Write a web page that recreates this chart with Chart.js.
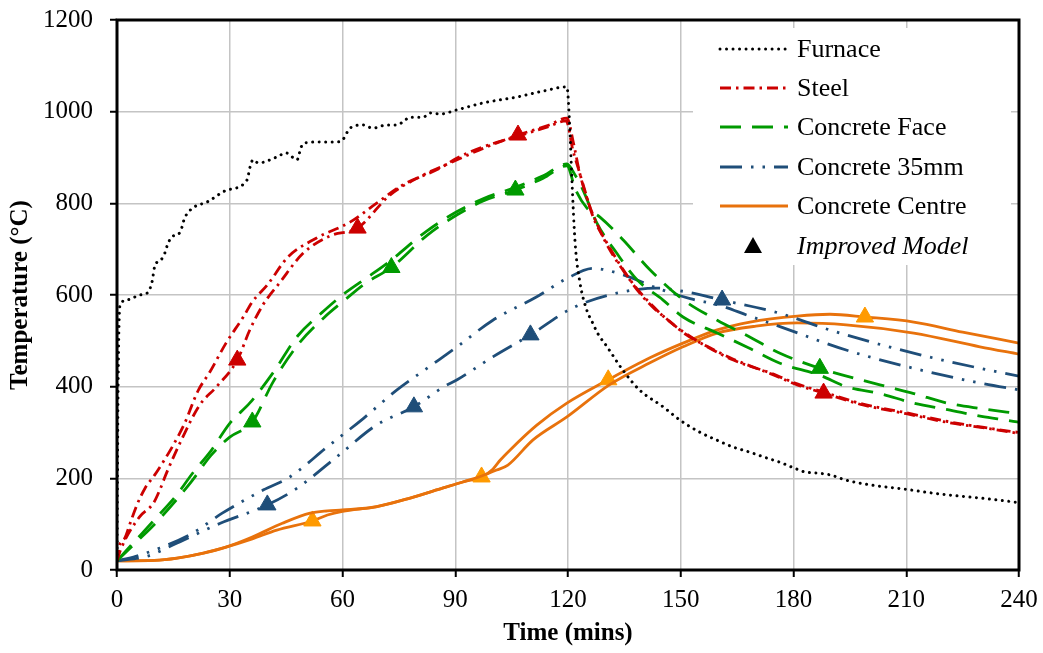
<!DOCTYPE html>
<html>
<head>
<meta charset="utf-8">
<title>Temperature vs time</title>
<script src="https://cdn.jsdelivr.net/npm/chart.js@4.4.0/dist/chart.umd.min.js"></script>
<style>
  html, body { margin: 0; padding: 0; background: #fff; }
  #wrap { width: 1043px; height: 653px; }
</style>
</head>
<body>
<div id="wrap"><canvas id="tempChart" width="1043" height="653"></canvas></div>
<script>
// [time (mins), temperature (°C)]
const furnace = [[0,20],[0.3,400],[0.8,578],[3,590],[6,600],[8,604],[9.3,628],[10,661],[12.3,683],[13.6,713],[14.6,727],[16.8,737],[18,768],[20.2,790],[24,803],[29.3,829],[34.6,851],[35.4,879],[36.2,895],[37.6,888],[42.5,901],[45,910],[47.9,895],[49,923],[50,932],[55,934],[58.5,934],[60,938],[62,964],[65.5,971],[68,964],[71.8,971],[74.5,971],[76,977],[78,988],[81.5,988],[83.3,997],[86,995],[90.5,1004],[97.4,1019],[106.4,1032],[113.4,1045],[119.7,1054],[120.5,960],[121,858],[121.9,713],[123.2,626],[125,567],[126.5,540],[128,515],[130.4,487],[134.6,436],[139,393],[145.3,356],[149.8,327],[155,301],[160,282],[164,268],[168,258],[173,244],[176.4,235],[180,223],[183,214],[187,211],[190,207],[194,196],[201,185],[210,176],[215,170],[221,164],[229.6,157],[234,153],[240,147]];

const steelA = [[0,20],[0.5,50],[2.1,70],[3.5,102],[5.3,142],[7.5,179],[10,207],[12.3,236],[15,273],[18,320],[21.5,390],[24.7,432],[29,495],[33.6,552],[36,585],[40,622],[45.5,683],[53,724],[62,759],[69,800],[76,840],[86,877],[90.5,899],[97,922],[106,945],[115,968],[119.5,980],[121.3,916],[122.6,880],[125,814],[126.7,770],[130.4,713],[134.7,655],[138,617],[142.7,575],[146,549],[150.6,520],[156,492],[164,458],[173.8,430],[181,406],[188,388],[198.5,362],[210,343],[221,324],[231.5,310],[240,300]];
const steelB = [[0,20],[1,45],[6,116],[9.7,146],[11.4,175],[13.3,214],[17.5,290],[22,360],[26.5,400],[32,458],[35.4,525],[38.8,578],[43.4,628],[49.5,691],[57,730],[64,746],[72.6,818],[80.6,858],[90.5,895],[97.4,920],[106.7,949],[115,971],[119.7,986],[121.5,930],[123,870],[125.5,800],[128,750],[131,700],[135,650],[139,605],[143,570],[147,543],[151,516],[157,488],[164,460],[174,428],[181,404],[188,386],[198.5,360],[210,341],[221,322],[231.5,309],[240,298]];

const faceA = [[0,20],[5,65],[10,110],[16,165],[20,210],[25,260],[30,320],[35.4,365],[41.5,430],[48,510],[55,565],[60,600],[66,635],[72,670],[82.5,740],[90.5,782],[97.4,810],[106,835],[113.4,860],[119.7,886],[122,860],[124,829],[127.7,757],[133,691],[138.4,633],[145.3,589],[150.6,552],[159.7,517],[168,485],[176.4,451],[187,425],[194,400],[203,385],[212,364],[221,350],[230,335],[239.5,323],[240,322]];
const faceB = [[0,20],[5,60],[10,100],[16,155],[20,195],[25,250],[30,290],[36,323],[41.5,410],[48,490],[55,550],[60,585],[66,625],[73,660],[82.5,730],[90.5,775],[97.4,805],[106,829],[113.4,855],[119.7,882],[122,830],[125,790],[128.5,770],[134.7,720],[141.8,655],[150.6,590],[159.7,545],[168,510],[176.4,473],[187,440],[203,404],[212,385],[221,364],[230,352],[240,341]];

const mm35A = [[0,20],[5,30],[11.4,48],[20,80],[28,124],[39,175],[46,203],[56,269],[65.6,331],[74.5,393],[83,443],[90.5,487],[100,545],[111.7,596],[119.7,636],[126.7,658],[134.7,644],[143.7,615],[152.5,592],[160.5,577],[168,555],[176.4,531],[194,480],[212,440],[229.6,408],[240,393]];
const mm35B = [[0,20],[8,30],[15,55],[27.5,102],[40,142],[48,179],[58.5,247],[69,316],[79,356],[86.8,399],[90.5,415],[100,465],[110,513],[121.3,572],[133,604],[143.7,615],[152,606],[161,589],[176.4,560],[188,528],[200.4,498],[216,465],[232,436],[240,423]];

const centreA = [[0,20],[10,21],[16,26],[23,37],[29,50],[36,72],[44,102],[51.4,124],[56,129],[60,131],[69,138],[78,157],[86.8,179],[92,192],[97,205],[101,218],[104,229],[110.7,284],[119.7,334],[131,404],[141.8,452],[150.6,487],[159.7,517],[170,532],[181,539],[194,535],[212,517],[229.6,487],[240,471]];
const centreB = [[0,20],[10,21],[16,26],[23,37],[29,50],[36,68],[42.5,87],[52,107],[56,120],[60,128],[69,138],[78,157],[86.8,179],[92,192],[97,203],[100,220],[102,240],[104.6,262],[111.7,316],[119.7,364],[130.7,415],[141.8,463],[150.6,495],[159.7,524],[168.4,541],[181,554],[189.7,558],[199,552],[212,541],[225,519],[240,495]];

// times where the improved model is marked with a triangle
const steelMarks = [32, 64, 106.7, 188];
const faceMarks = [36, 73, 106, 187];
const mm35Marks = [40, 79, 110, 161];
const centreMarks = [52, 97, 130.7, 199];

const legendLabels = ['Furnace', 'Steel', 'Concrete Face', 'Concrete 35mm', 'Concrete Centre', 'Improved Model'];

const xTicks = [0, 30, 60, 90, 120, 150, 180, 210, 240];
const yTicks = [0, 200, 400, 600, 800, 1000, 1200];

const RED = '#CC0000', GREEN = '#009A00', BLUE = '#1F4E79', ORANGE = '#E8720C', ORANGE_MARK = '#FF9A00';
const DOTS = [0.01, 6.5], DASHDOT = [11, 5, 2.5, 5], DASH = [21, 11], DASHDOTDOT = [22, 9, 2.5, 9, 2.5, 9];
const FONT = 'Liberation Serif, Times New Roman, serif';

function line(label, pts, color, dash, marks, markColor, cap) {
  return {
    label: label,
    data: pts.map(p => ({ x: p[0], y: p[1] })),
    borderColor: color,
    borderWidth: cap === 'round' ? 3 : 2.8,
    borderDash: dash,
    borderCapStyle: cap || 'butt',
    fill: false,
    cubicInterpolationMode: 'monotone',
    pointStyle: 'triangle',
    pointRadius: ctx => (marks && ctx.raw && marks.includes(ctx.raw.x)) ? 10 : 0,
    pointHoverRadius: 0,
    pointBackgroundColor: markColor || color,
    pointBorderColor: markColor || color,
    pointBorderWidth: 1,
  };
}

const legendStyles = [
  { color: '#000', dash: DOTS, cap: 'round', width: 3 },
  { color: RED, dash: DASHDOT },
  { color: GREEN, dash: DASH },
  { color: BLUE, dash: DASHDOTDOT },
  { color: ORANGE, dash: [] },
  null,
];

const legendBox = {
  id: 'legendBox',
  beforeDatasetsDraw(chart) {
    const ctx = chart.ctx;
    ctx.save();
    ctx.fillStyle = '#fff';
    ctx.fillRect(693, 28, 318, 237);
    ctx.restore();
  },
  afterDraw(chart) {
    const ctx = chart.ctx;
    const a = chart.chartArea;
    ctx.save();
    // frame round the plot
    ctx.strokeStyle = '#000';
    ctx.lineWidth = 3;
    ctx.strokeRect(a.left, a.top, a.right - a.left, a.bottom - a.top);

    const rowY = [49, 88, 127, 167, 206, 246];
    legendLabels.forEach((txt, i) => {
      const y = rowY[i];
      const st = legendStyles[i];
      if (st) {
        ctx.beginPath();
        ctx.setLineDash(st.dash);
        ctx.lineCap = st.cap || 'butt';
        ctx.lineWidth = st.width || 2.8;
        ctx.strokeStyle = st.color;
        ctx.moveTo(720, y);
        ctx.lineTo(788, y);
        ctx.stroke();
      } else {
        ctx.setLineDash([]);
        ctx.fillStyle = '#000';
        ctx.beginPath();
        ctx.moveTo(753, y - 9);
        ctx.lineTo(762, y + 7);
        ctx.lineTo(744, y + 7);
        ctx.closePath();
        ctx.fill();
      }
      ctx.fillStyle = '#000';
      ctx.textBaseline = 'middle';
      ctx.textAlign = 'left';
      ctx.font = (i === 5 ? 'italic ' : '') + '26px ' + FONT;
      ctx.fillText(txt, 797, y + 1);
    });
    ctx.restore();
  }
};

const ctx = document.getElementById('tempChart').getContext('2d');
const tempChart = new Chart(ctx, {
  type: 'line',
  data: {
    datasets: [
      line('Furnace', furnace, '#000', DOTS, null, null, 'round'),
      line('Steel', steelA, RED, DASHDOT),
      line('Steel (improved)', steelB, RED, DASHDOT, steelMarks),
      line('Concrete Face', faceA, GREEN, DASH),
      line('Concrete Face (improved)', faceB, GREEN, DASH, faceMarks),
      line('Concrete 35mm', mm35A, BLUE, DASHDOTDOT),
      line('Concrete 35mm (improved)', mm35B, BLUE, DASHDOTDOT, mm35Marks),
      line('Concrete Centre', centreA, ORANGE, []),
      line('Concrete Centre (improved)', centreB, ORANGE, [], centreMarks, ORANGE_MARK),
    ],
  },
  options: {
    responsive: false,
    animation: false,
    devicePixelRatio: 1,
    layout: { padding: { top: 20, right: 24, left: 0, bottom: 0 } },
    plugins: {
      legend: { display: false },
      tooltip: { enabled: false },
    },
    scales: {
      x: {
        type: 'linear',
        min: 0,
        max: 240,
        afterFit: s => { s.height = 83; s.paddingLeft = 0; s.paddingRight = 0; },
        afterBuildTicks: s => { s.ticks = xTicks.map(v => ({ value: v })); },
        border: { display: false },
        grid: { color: '#C4C4C4', lineWidth: 1.5, tickColor: '#000', tickLength: 7, tickWidth: 2 },
        ticks: { color: '#000', padding: 8, maxRotation: 0, callback: v => String(v), font: { family: FONT, size: 25 } },
        title: { display: true, text: 'Time (mins)', color: '#000', padding: { top: 0, bottom: 4 }, font: { family: FONT, size: 25, weight: 'bold' } },
      },
      y: {
        min: 0,
        max: 1200,
        afterFit: s => { s.width = 117; s.paddingTop = 0; s.paddingBottom = 0; },
        afterBuildTicks: s => { s.ticks = yTicks.map(v => ({ value: v })); },
        border: { display: false },
        grid: { color: '#C4C4C4', lineWidth: 1.5, tickColor: '#000', tickLength: 7, tickWidth: 2 },
        ticks: { color: '#000', padding: 17, callback: v => String(v), font: { family: FONT, size: 25 } },
        title: { display: true, text: 'Temperature (°C)', color: '#000', padding: { top: 6, bottom: 0 }, font: { family: FONT, size: 25, weight: 'bold' } },
      },
    },
  },
  plugins: [legendBox],
});
</script>
</body>
</html>
